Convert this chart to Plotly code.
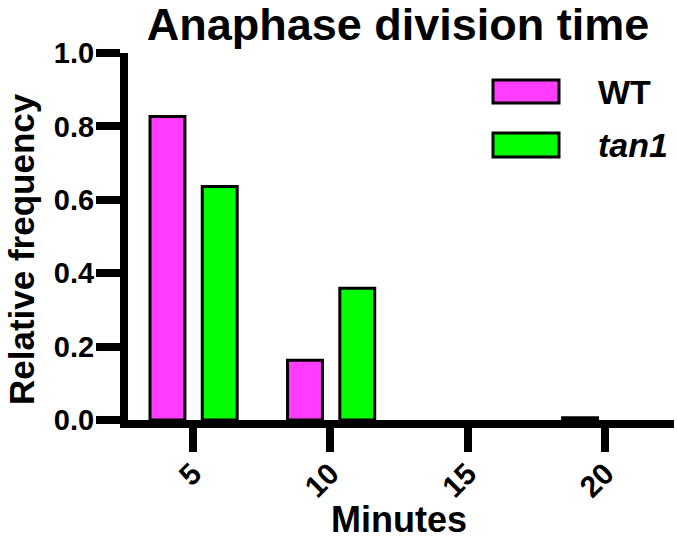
import plotly.graph_objects as go

# ---- data ----
minutes = [5, 10, 15, 20]
series_names = ["WT", "tan1"]
wt_freq = [0.827, 0.163, 0.0, 0.006]
tan1_freq = [0.636, 0.359, 0.0, 0.0]
y_ticks = [0.0, 0.2, 0.4, 0.6, 0.8, 1.0]
y_tick_text = ["0.0", "0.2", "0.4", "0.6", "0.8", "1.0"]

WT_COLOR = "#FF3CFF"
TAN1_COLOR = "#00FF00"
FONT = "Liberation Sans, Arial, sans-serif"


def outline_widths(vals):
    return [3 if v > 0 else 0 for v in vals]


fig = go.Figure()
fig.add_trace(go.Bar(x=minutes, y=wt_freq, name=series_names[0], width=1.27, offset=-1.55,
                     marker=dict(color=WT_COLOR,
                                 line=dict(color="black", width=outline_widths(wt_freq))),
                     showlegend=False))
fig.add_trace(go.Bar(x=minutes, y=tan1_freq, name=series_names[1], width=1.27, offset=0.35,
                     marker=dict(color=TAN1_COLOR,
                                 line=dict(color="black", width=outline_widths(tan1_freq))),
                     showlegend=False))

W, H = 677, 543
ml, mr, mt, mb = 128, 3, 53, 123
pw, ph = W - ml - mr, H - mt - mb


def px(x):
    return (x - ml) / pw


def py(y):
    return (H - mb - y) / ph


# legend drawn as swatches + text
legend_items = [(series_names[0], WT_COLOR, 80, 103, 92, "<b>WT</b>"),
                (series_names[1], TAN1_COLOR, 133, 157, 145, "<b><i>tan1</i></b>")]
shapes = []
annotations = []
for name, col, ytop, ybot, ytxt, label in legend_items:
    shapes.append(dict(type="rect", xref="paper", yref="paper",
                       x0=px(493), x1=px(559), y0=py(ybot), y1=py(ytop),
                       fillcolor=col, line=dict(color="black", width=3)))
    annotations.append(dict(xref="paper", yref="paper", x=px(596), y=py(ytxt),
                            text=label, showarrow=False, xanchor="left", yanchor="middle",
                            font=dict(family=FONT, size=34, color="black")))

# y-axis title as rotated annotation
annotations.append(dict(xref="paper", yref="paper", x=px(21), y=py(249),
                        text="<b>Relative frequency</b>", textangle=-90, showarrow=False,
                        xanchor="center", yanchor="middle",
                        font=dict(family=FONT, size=35, color="black")))

# x-axis title as annotation
annotations.append(dict(xref="paper", yref="paper", x=px(399), y=py(519),
                        text="<b>Minutes</b>", showarrow=False,
                        xanchor="center", yanchor="middle",
                        font=dict(family=FONT, size=36, color="black")))

fig.update_layout(
    width=W, height=H,
    margin=dict(l=ml, r=mr, t=mt, b=mb, pad=0, autoexpand=False),
    paper_bgcolor="white", plot_bgcolor="white",
    barmode="overlay",
    title=dict(text="<b>Anaphase division time</b>", x=(ml + pw / 2 - 3) / W, xanchor="center",
               y=1 - 24 / H, yanchor="middle",
               font=dict(family=FONT, size=45, color="black")),
    xaxis=dict(range=[2.65, 22.5], tickvals=minutes, ticktext=[str(m) for m in minutes],
               tickangle=-45, showline=True, linecolor="black", linewidth=8,
               ticks="outside", ticklen=24, tickwidth=8, tickcolor="black",
               showgrid=False, zeroline=False, ticklabelstandoff=-8,
               tickfont=dict(family=FONT, size=30, color="black", weight="bold")),
    yaxis=dict(range=[0, 1.0], tickvals=y_ticks, ticktext=y_tick_text,
               showline=True, linecolor="black", linewidth=8,
               ticks="outside", ticklen=24, tickwidth=8, tickcolor="black",
               showgrid=False, zeroline=False, ticklabelstandoff=-4,
               tickfont=dict(family=FONT, size=29, color="black", weight="bold")),
    shapes=shapes,
    annotations=annotations,
)

fig.write_html("out.html", config={"displayModeBar": False},
               post_script="document.body.style.margin='0px';")
